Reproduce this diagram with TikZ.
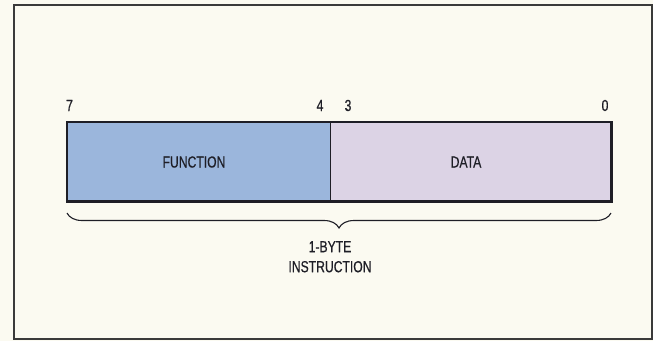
\documentclass[tikz,border=0pt]{standalone}
\usepackage{fontspec}
\setmainfont{Liberation Sans}[FakeStretch=0.76,FakeBold=0.5]
\usetikzlibrary{decorations.pathreplacing}
\definecolor{paper}{HTML}{FBFAF1}
\definecolor{fnblue}{HTML}{9BB6DC}
\definecolor{datalav}{HTML}{DCD3E5}
\definecolor{ink}{HTML}{1E1E26}
\definecolor{framec}{HTML}{3A3A3A}
\tikzset{
  lbl/.style={font=\fontsize{16}{19}\selectfont, text=ink, inner sep=0pt},
  field/.style={draw=none, inner sep=0pt, anchor=north west},
  bitno/.style={lbl, anchor=base},
}
\begin{document}
\begin{tikzpicture}[x=1pt,y=-1pt]
\useasboundingbox (0,0) rectangle (653,341);
\fill[paper] (0,0) rectangle (653,341);
\draw[framec, line width=2pt] (14,5) rectangle (652,339);
% fields
\node[field, fill=fnblue, minimum width=263pt, minimum height=79pt] (fn) at (67,122) {};
\node[field, fill=datalav, minimum width=281pt, minimum height=79pt] (dt) at (330,122) {};
\draw[ink, line width=1pt] (fn.north east) -- (fn.south east);
\draw[ink, line width=2.3pt] (fn.north west) rectangle (dt.south east);
\node[lbl] (fntext) at (194,162) {FUNCTION};
\node[lbl] (dttext) at (466,162) {DATA};
% bit numbers
\node[bitno] (b7) at (69.5,111) {7};
\node[bitno] (b4) at (320,111) {4};
\node[bitno] (b3) at (348,111) {3};
\node[bitno] (b0) at (605,111) {0};
% brace
\coordinate (bl) at (67,213);
\coordinate (br) at (611,213);
\draw[ink, line width=1.1pt, decorate, decoration={brace, mirror, amplitude=15pt}] (bl) -- (br);
\node[lbl, align=center, anchor=north] (instr) at (330,241) {1-BYTE\\[1pt]INSTRUCTION};
\end{tikzpicture}
\end{document}
